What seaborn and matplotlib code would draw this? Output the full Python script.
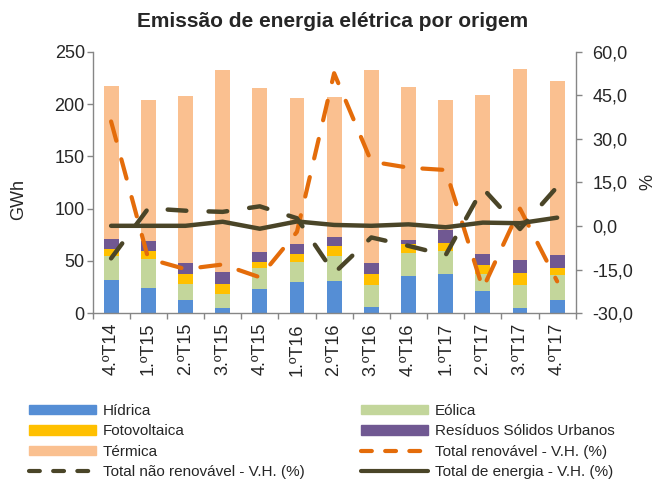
import numpy as np
import matplotlib.pyplot as plt
import matplotlib.patches as mpatches
from matplotlib.lines import Line2D
import seaborn as sns

quarters = ['4.ºT14', '1.ºT15', '2.ºT15', '3.ºT15', '4.ºT15', '1.ºT16', '2.ºT16',
            '3.ºT16', '4.ºT16', '1.ºT17', '2.ºT17', '3.ºT17', '4.ºT17']

# GWh por origem
hidrica = [32.2, 24.0, 12.8, 5.4, 23.0, 30.0, 31.3, 5.7, 36.1, 37.1, 21.1, 5.1, 13.1]
eolica = [23.0, 28.0, 15.6, 13.4, 20.0, 19.5, 23.0, 21.4, 21.4, 22.9, 16.0, 22.4, 23.9]
fotovoltaica = [5.8, 7.4, 9.6, 9.6, 6.5, 7.3, 9.6, 10.6, 8.3, 7.0, 9.3, 10.8, 6.5]
rsu = [9.6, 9.6, 9.6, 10.9, 8.9, 9.9, 8.9, 10.2, 3.8, 12.2, 10.5, 12.2, 11.8]
termica = [146.8, 134.4, 159.9, 193.1, 156.5, 138.8, 134.1, 184.5, 146.6, 124.5, 151.6, 182.9, 166.3]

# variacao homologa (%)
vh_renovavel = [36.0, -11.2, -14.8, -13.2, -17.6, -2.0, 52.6, 22.2, 20.1, 19.3, -21.5, 6.0, -19.0]
vh_nao_renovavel = [-11.1, 6.1, 5.3, 4.9, 6.8, 2.7, -16.2, -3.9, -6.8, -10.0, 13.0, -1.0, 13.5]
vh_total = [0.1, 0.1, 0.1, 1.5, -0.9, 1.6, 0.4, 0.1, 0.6, -0.4, 1.2, 1.0, 2.9]

series = [('Hídrica', hidrica, '#558ED5'),
          ('Eólica', eolica, '#C3D69B'),
          ('Fotovoltaica', fotovoltaica, '#FFC000'),
          ('Resíduos Sólidos Urbanos', rsu, '#705892'),
          ('Térmica', termica, '#FAC090')]

c_renov = '#E46C0A'
c_dark = '#4A4528'
c_axis = '#868686'

sns.set_theme(style='white')
plt.rcParams['font.family'] = ['Liberation Sans', 'DejaVu Sans']

fig = plt.figure(figsize=(6.57, 4.79), dpi=100)
ax = fig.add_axes([0.1408, 0.3459, 0.7355, 0.5462])

# barras empilhadas: desenhar do total para baixo
cum = np.cumsum([s[1] for s in series], axis=0)
for i in range(len(series) - 1, -1, -1):
    sns.barplot(x=quarters, y=cum[i], color=series[i][2], saturation=1,
                width=0.4, linewidth=0, ax=ax)

ax.set_ylim(0, 250)
ax.set_yticks(range(0, 251, 50))
ax.set_xlim(-0.5, len(quarters) - 0.5)
ax.set_xlabel('')
ax.set_ylabel('')
ax.set_xticks(np.arange(-0.5, len(quarters), 1), minor=True)
ax.tick_params(axis='x', which='major', length=0, pad=7, labelrotation=90, labelsize=13)
ax.tick_params(axis='x', which='minor', length=4, width=1, color=c_axis, bottom=True)
ax.tick_params(axis='y', length=4, width=1, color=c_axis, left=True, pad=1.5, labelsize=13)
for s in ['top', 'right']:
    ax.spines[s].set_visible(False)
for s in ['left', 'bottom']:
    ax.spines[s].set_color(c_axis)
    ax.spines[s].set_linewidth(1)

ax2 = ax.twinx()
pos = np.arange(len(quarters))
sns.lineplot(x=pos, y=vh_renovavel, ax=ax2, color=c_renov, lw=3,
             linestyle=(0, (4.8, 4.6)), dash_capstyle='round', legend=False)
sns.lineplot(x=pos, y=vh_nao_renovavel, ax=ax2, color=c_dark, lw=3.2,
             linestyle=(0, (4.2, 5.0)), dash_capstyle='round', legend=False)
sns.lineplot(x=pos, y=vh_total, ax=ax2, color=c_dark, lw=3.2,
             solid_capstyle='round', solid_joinstyle='round', legend=False)

pct_ticks = np.arange(-30, 61, 15)
ax2.set_ylim(-30, 60)
ax2.set_yticks(pct_ticks, labels=[f'{v:.1f}'.replace('.', ',') for v in pct_ticks])
ax2.set_ylabel('')
ax2.tick_params(axis='y', length=4, width=1, color=c_axis, right=True, pad=8, labelsize=13)
for s in ['top', 'left', 'bottom']:
    ax2.spines[s].set_visible(False)
ax2.spines['right'].set_color(c_axis)
ax2.spines['right'].set_linewidth(1)

fig.text(0.506, 1 - 26.7 / 479, 'Emissão de energia elétrica por origem',
         ha='center', va='baseline', fontsize=15, fontweight='bold')
fig.text(18.3 / 657, 1 - 199 / 479, 'GWh', rotation=90, ha='center', va='center', fontsize=13)
fig.text(648 / 657, 1 - 182 / 479, '%', rotation=90, ha='center', va='center', fontsize=13)

# legenda: 2 colunas, preenchidas por coluna
patches = {name: mpatches.Patch(color=col, label=name) for name, _, col in series}
h_renov = Line2D([], [], color=c_renov, lw=3, linestyle=(0, (2.6, 3.2)),
                 dash_capstyle='round', label='Total renovável - V.H. (%)')
h_nren = Line2D([], [], color=c_dark, lw=3, linestyle=(0, (2.6, 3.2)),
                dash_capstyle='round', label='Total não renovável - V.H. (%)')
h_tot = Line2D([], [], color=c_dark, lw=3, solid_capstyle='round',
               label='Total de energia - V.H. (%)')
handles = [patches['Hídrica'], patches['Fotovoltaica'], patches['Térmica'], h_nren,
           patches['Eólica'], patches['Resíduos Sólidos Urbanos'], h_renov, h_tot]
fig.legend(handles=handles, labels=[h.get_label() for h in handles], ncol=2,
           loc='upper left', bbox_to_anchor=(28.6 / 657, 1 - 404 / 479),
           frameon=False, fontsize=11, borderpad=0, borderaxespad=0,
           handlelength=4.42, handleheight=0.55, handletextpad=0.45,
           labelspacing=0.42, columnspacing=3.65)

fig.savefig('out.png', dpi=100)
